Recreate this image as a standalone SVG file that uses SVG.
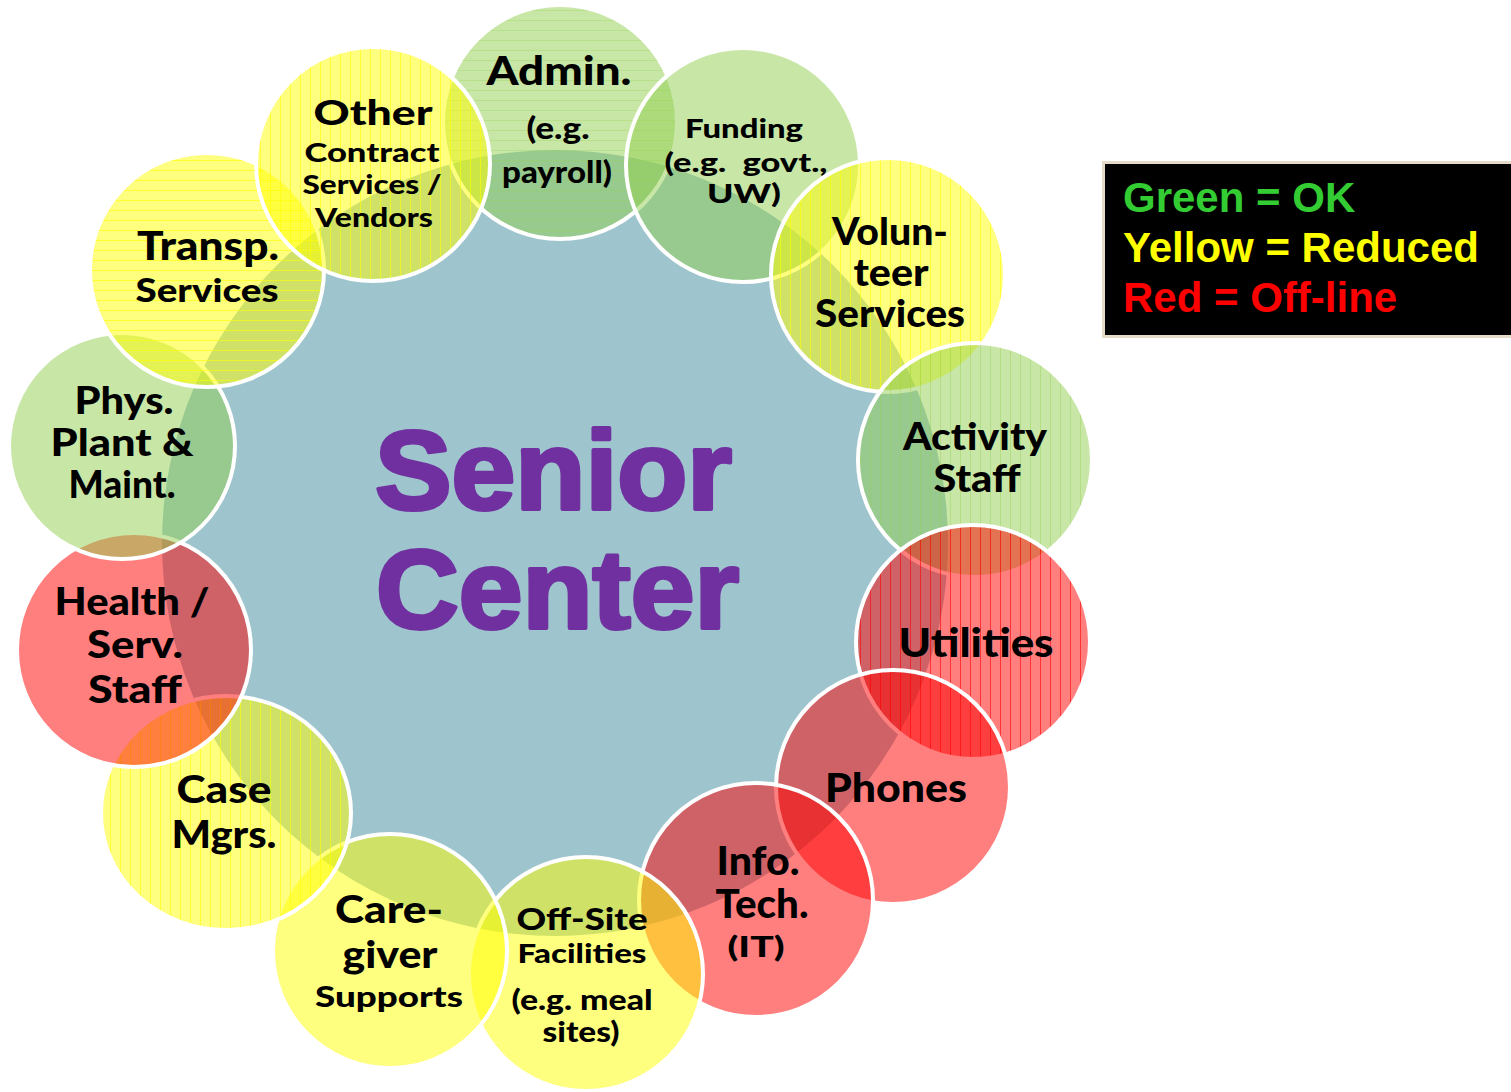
<svg xmlns="http://www.w3.org/2000/svg" width="1511" height="1092" viewBox="0 0 1511 1092">
<style>
.ring{stroke:#fff;stroke-width:4}
.gS{fill:#92D050;fill-opacity:.5}
.yS{fill:#FFFF00;fill-opacity:.5}
.rS{fill:#FF0000;fill-opacity:.5}
.lbl{font-family:Lato,"Open Sans","DejaVu Sans",sans-serif;font-weight:900;fill:#000;text-anchor:middle}
.big{font-family:"Liberation Sans",Arial,sans-serif;font-weight:700;fill:#7030A0;stroke:#7030A0;stroke-width:4;stroke-linejoin:round;font-size:112px}
.leg{font-family:"Liberation Sans",Arial,sans-serif;font-weight:700;font-size:42px}
</style>
<defs>
<pattern id="hG" patternUnits="userSpaceOnUse" width="10" height="10"><rect width="10" height="10" fill="#92D050" fill-opacity=".5"/><rect width="10" height="1" fill="#92D050" fill-opacity=".35"/></pattern>
<pattern id="hY" patternUnits="userSpaceOnUse" width="10" height="10"><rect width="10" height="10" fill="#FFFF00" fill-opacity=".5"/><rect width="10" height="1" fill="#FFFF00" fill-opacity=".6"/></pattern>
<pattern id="vY" patternUnits="userSpaceOnUse" width="10" height="10"><rect width="10" height="10" fill="#FFFF00" fill-opacity=".5"/><rect width="1" height="10" fill="#FFFF00" fill-opacity=".6"/></pattern>
<pattern id="vG" patternUnits="userSpaceOnUse" width="10" height="10"><rect width="10" height="10" fill="#92D050" fill-opacity=".5"/><rect width="1" height="10" fill="#92D050" fill-opacity=".4"/></pattern>
<pattern id="vR" patternUnits="userSpaceOnUse" width="10" height="10"><rect width="10" height="10" fill="#FF0000" fill-opacity=".5"/><rect width="1" height="10" fill="#FF0000" fill-opacity=".6"/></pattern>
</defs>
<rect width="1511" height="1092" fill="#fff"/>

<g id="senior-center">
<circle cx="555" cy="543" r="393" fill="#9EC5CE"/>
<text class="big" x="375" y="509" textLength="357" lengthAdjust="spacingAndGlyphs">Senior</text>
<text class="big" x="376" y="628" textLength="363" lengthAdjust="spacingAndGlyphs">Center</text>
</g>

<g id="connectors"></g>

<g id="admin">
<circle class="ring" cx="560" cy="122" r="117" fill="url(#hG)"/>
<text class="lbl" x="559" y="85" font-size="39" textLength="145" lengthAdjust="spacingAndGlyphs">Admin.</text>
<text class="lbl" x="558" y="139" font-size="30" textLength="63" lengthAdjust="spacingAndGlyphs">(e.g.</text>
<text class="lbl" x="557" y="183" font-size="30" textLength="110" lengthAdjust="spacingAndGlyphs">payroll)</text>
</g>

<g id="funding">
<circle class="ring gS" cx="743" cy="165" r="117"/>
<text class="lbl" x="744" y="138" font-size="27" textLength="118" lengthAdjust="spacingAndGlyphs">Funding</text>
<text class="lbl" x="746" y="172" font-size="27" textLength="163" lengthAdjust="spacingAndGlyphs" xml:space="preserve">(e.g.  govt.,</text>
<text class="lbl" x="744" y="203" font-size="27" textLength="74" lengthAdjust="spacingAndGlyphs">UW)</text>
</g>

<g id="volunteer">
<circle class="ring" cx="888" cy="275" r="117" fill="url(#vY)"/>
<text class="lbl" x="890" y="245" font-size="37" textLength="116" lengthAdjust="spacingAndGlyphs">Volun-</text>
<text class="lbl" x="891" y="286" font-size="37" textLength="75" lengthAdjust="spacingAndGlyphs">teer</text>
<text class="lbl" x="890" y="327" font-size="37" textLength="150" lengthAdjust="spacingAndGlyphs">Services</text>
</g>

<g id="activity-staff">
<circle class="ring" cx="975" cy="460" r="117" fill="url(#vG)"/>
<text class="lbl" x="975" y="450" font-size="38" textLength="144" lengthAdjust="spacingAndGlyphs">Activity</text>
<text class="lbl" x="977" y="492" font-size="38" textLength="87" lengthAdjust="spacingAndGlyphs">Staff</text>
</g>

<g id="utilities">
<circle class="ring" cx="973" cy="642" r="117" fill="url(#vR)"/>
<text class="lbl" x="976" y="657" font-size="40" textLength="155" lengthAdjust="spacingAndGlyphs">Utilities</text>
</g>

<g id="phones">
<circle class="ring rS" cx="893" cy="787" r="117"/>
<text class="lbl" x="896" y="802" font-size="40" textLength="142" lengthAdjust="spacingAndGlyphs">Phones</text>
</g>

<g id="info-tech">
<circle class="ring rS" cx="756" cy="900" r="117"/>
<text class="lbl" x="758" y="875" font-size="39" textLength="83" lengthAdjust="spacingAndGlyphs">Info.</text>
<text class="lbl" x="762" y="918" font-size="39" textLength="93" lengthAdjust="spacingAndGlyphs">Tech.</text>
<text class="lbl" x="756" y="957" font-size="29" textLength="57" lengthAdjust="spacingAndGlyphs">(IT)</text>
</g>

<g id="off-site">
<circle class="ring yS" cx="586" cy="974" r="117"/>
<text class="lbl" x="582" y="930" font-size="31" textLength="131" lengthAdjust="spacingAndGlyphs">Off-Site</text>
<text class="lbl" x="582" y="963" font-size="27" textLength="129" lengthAdjust="spacingAndGlyphs">Facilities</text>
<text class="lbl" x="582" y="1010" font-size="29" textLength="141" lengthAdjust="spacingAndGlyphs">(e.g. meal</text>
<text class="lbl" x="581" y="1042" font-size="29" textLength="77" lengthAdjust="spacingAndGlyphs">sites)</text>
</g>

<g id="caregiver">
<circle class="ring yS" cx="390" cy="951" r="117"/>
<text class="lbl" x="389" y="923" font-size="37" textLength="108" lengthAdjust="spacingAndGlyphs">Care-</text>
<text class="lbl" x="390" y="968" font-size="37" textLength="95" lengthAdjust="spacingAndGlyphs">giver</text>
<text class="lbl" x="389" y="1007" font-size="29" textLength="148" lengthAdjust="spacingAndGlyphs">Supports</text>
</g>

<g id="case-mgrs">
<ellipse class="ring" cx="226" cy="813" rx="125" ry="117" fill="url(#vY)"/>
<text class="lbl" x="224" y="803" font-size="37" textLength="95" lengthAdjust="spacingAndGlyphs">Case</text>
<text class="lbl" x="224" y="848" font-size="37" textLength="105" lengthAdjust="spacingAndGlyphs">Mgrs.</text>
</g>

<g id="health">
<circle class="ring rS" cx="134" cy="650" r="117"/>
<text class="lbl" x="132" y="615" font-size="38" textLength="155" lengthAdjust="spacingAndGlyphs">Health /</text>
<text class="lbl" x="135" y="658" font-size="38" textLength="96" lengthAdjust="spacingAndGlyphs">Serv.</text>
<text class="lbl" x="135" y="703" font-size="38" textLength="94" lengthAdjust="spacingAndGlyphs">Staff</text>
</g>

<g id="phys-plant">
<circle class="ring gS" cx="122" cy="446" r="113"/>
<text class="lbl" x="124" y="414" font-size="38" textLength="99" lengthAdjust="spacingAndGlyphs">Phys.</text>
<text class="lbl" x="122" y="456" font-size="38" textLength="143" lengthAdjust="spacingAndGlyphs">Plant &amp;</text>
<text class="lbl" x="122" y="498" font-size="38" textLength="107" lengthAdjust="spacingAndGlyphs">Maint.</text>
</g>

<g id="transp">
<circle class="ring" cx="207" cy="270" r="117" fill="url(#hY)"/>
<text class="lbl" x="208" y="260" font-size="39" textLength="142" lengthAdjust="spacingAndGlyphs">Transp.</text>
<text class="lbl" x="207" y="302" font-size="33" textLength="143" lengthAdjust="spacingAndGlyphs">Services</text>
</g>

<g id="other-contract">
<circle class="ring" cx="373" cy="164" r="117" fill="url(#vY)"/>
<text class="lbl" x="373" y="125" font-size="35" textLength="119" lengthAdjust="spacingAndGlyphs">Other</text>
<text class="lbl" x="372" y="162" font-size="26" textLength="135" lengthAdjust="spacingAndGlyphs">Contract</text>
<text class="lbl" x="372" y="194" font-size="26" textLength="139" lengthAdjust="spacingAndGlyphs">Services /</text>
<text class="lbl" x="374" y="227" font-size="26" textLength="118" lengthAdjust="spacingAndGlyphs">Vendors</text>
</g>

<g id="legend">
<rect x="1103.5" y="162.5" width="420" height="174" fill="#000" stroke="#E4DCC8" stroke-width="3"/>
<text class="leg" x="1123" y="212" fill="#33CC33">Green = OK</text>
<text class="leg" x="1123" y="262" fill="#FFFF00">Yellow = Reduced</text>
<text class="leg" x="1123" y="312" fill="#FF0000">Red = Off-line</text>
</g>
</svg>
